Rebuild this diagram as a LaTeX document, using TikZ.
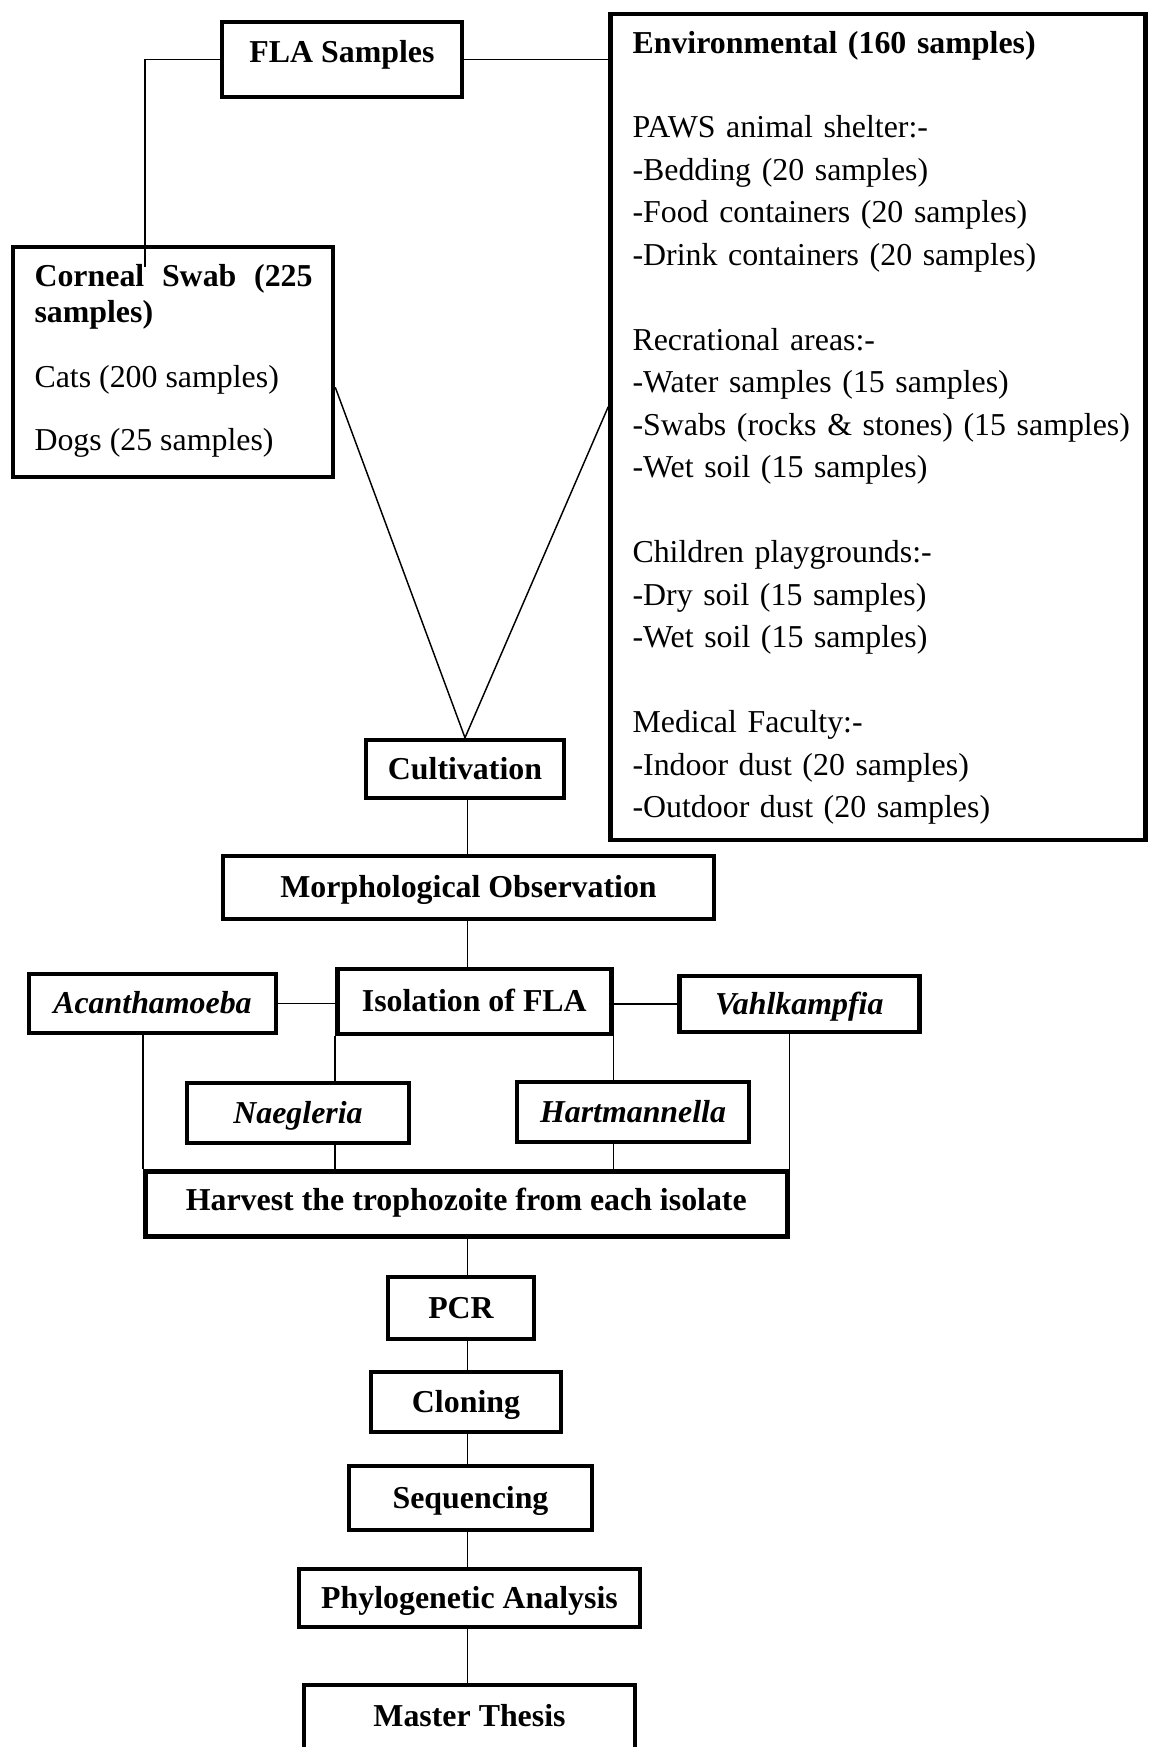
\documentclass[tikz,border=0pt]{standalone}
\usepackage{fontspec}
\setmainfont{Liberation Serif}
\usepackage{xcolor}
\usepackage{tikz}
\usetikzlibrary{calc}
\definecolor{ink}{HTML}{000000}
\tikzset{
  dims/.style 2 args={minimum width=#1*0.3765pt, minimum height=#2*0.3765pt},
  box/.style={draw=ink, line width=1.7pt, inner sep=0pt, text=ink, text height=7.6pt, text depth=0pt, font={\fontsize{12}{14}\selectfont\bfseries}},
  genus/.style={box, font={\fontsize{12}{14}\selectfont\bfseries\itshape}},
  link/.style={draw=ink, line width=0.55pt},
  body/.style={text=ink, inner sep=0pt, anchor=base west, align=left, font={\fontsize{12}{16}\selectfont}},
}

\begin{document}
\begin{tikzpicture}[x=0.3765pt, y=-0.3765pt]
\clip (0,0) rectangle (1151,1747);
% sample sources
\node[box, dims={240}{75}, text depth=5.2pt] (fla) at (342,59.5) {FLA Samples};
\node[box, dims={320}{230}] (corneal) at (173,362) {};
\node[body, text width=104.7pt, align=justify, font={\fontsize{12}{13.6}\selectfont\bfseries}] (cornealhead) at (34,286) {Corneal Swab (225 samples)};
\node[body] (cats) at (34,387) {Cats (200 samples)};
\node[body] (dogs) at (34,450) {Dogs (25 samples)};
\node[box, dims={535}{826}] (env) at (878,427) {};
\node[body, text width=192pt] (envtext) at (632,53) {\textbf{Environmental (160 samples)}\\[16pt]
PAWS animal shelter:-\\
-Bedding (20 samples)\\
-Food containers (20 samples)\\
-Drink containers (20 samples)\\[16pt]
Recrational areas:-\\
-Water samples (15 samples)\\
-Swabs (rocks \& stones) (15 samples)\\
-Wet soil (15 samples)\\[16pt]
Children playgrounds:-\\
-Dry soil (15 samples)\\
-Wet soil (15 samples)\\[16pt]
Medical Faculty:-\\
-Indoor dust (20 samples)\\
-Outdoor dust (20 samples)};
\coordinate (cjoin) at (145,267);
\coordinate (spine) at (467.5,0);

% processing steps
\node[box, dims={198}{58}] (cult) at (465,769) {Cultivation};
\node[box, dims={491}{63}] (morph) at (468.5,887.5) {Morphological Observation};
\node[box, dims={274}{65}] (iso) at (474.3,1001.5) {Isolation of FLA};
\node[genus, dims={247}{59}] (acan) at (152.5,1003.5) {Acanthamoeba};
\node[genus, dims={240}{56}] (vahl) at (799.3,1004) {Vahlkampfia};
\node[genus, dims={222}{60}] (naeg) at (298,1113) {Naegleria};
\node[genus, dims={232}{60}] (hart) at (633,1112) {Hartmannella};
\node[box, dims={642}{65}, text depth=2.6pt] (harv) at (466.3,1204) {Harvest the trophozoite from each isolate};
\node[box, dims={146}{62}] (pcr) at (461,1308) {PCR};
\node[box, dims={190}{60}] (clon) at (466,1402) {Cloning};
\node[box, dims={243}{64}] (seq) at (470.5,1498) {Sequencing};
\node[box, dims={341}{58}] (phyl) at (469.5,1598) {Phylogenetic Analysis};
\node[box, dims={331}{70}, text depth=3pt] (mast) at (469.5,1720) {Master Thesis};

% connectors
\draw[link] (fla.west) -| (cjoin);
\draw[link] (fla.east) -- (fla.east -| env.west);
\draw[link] ($(corneal.south east)+(0,-92)$) -- (cult.north);
\draw[link] ($(env.north west)+(0,395)$) -- (cult.north);
\foreach \a/\b in {cult/morph, morph/iso, harv/pcr, pcr/clon, clon/seq, seq/phyl, phyl/mast}
  \draw[link] (\a.south -| spine) -- (\b.north -| spine);
\draw[link] (acan.east) -- (acan.east -| iso.west);
\draw[link] (vahl.west -| iso.east) -- (vahl.west);
\draw[link] (iso.south west) -- (iso.south west |- naeg.north);
\draw[link] (naeg.south -| iso.south west) -- (harv.north -| iso.south west);
\draw[link] (iso.south east) -- (iso.south east |- hart.north);
\draw[link] (hart.south -| iso.south east) -- (harv.north -| iso.south east);
\draw[link] (acan.south -| harv.north west) -- (harv.north west);
\draw[link] (vahl.south -| harv.north east) -- (harv.north east);
\end{tikzpicture}
\end{document}
